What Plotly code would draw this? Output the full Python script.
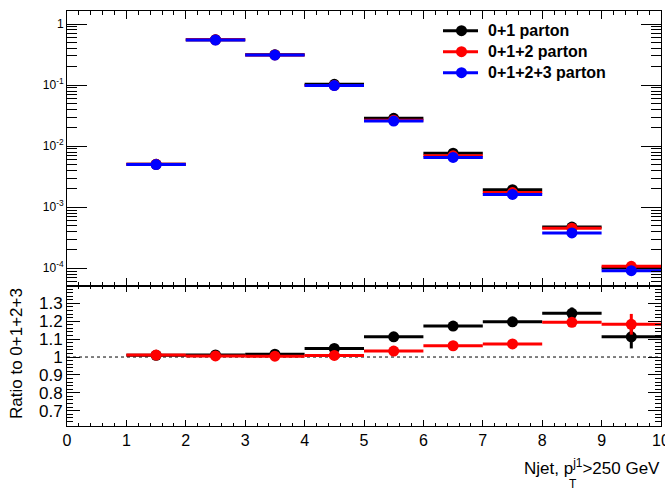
import plotly.graph_objects as go

# ---------------- data ----------------
bin_centers = [1.5, 2.5, 3.5, 4.5, 5.5, 6.5, 7.5, 8.5, 9.5]
bin_halfwidth = [0.5, 0.5, 0.5, 0.5, 0.5, 0.5, 0.5, 0.5, 0.5]

xs_01 = [0.00505, 0.5536, 0.315, 0.1027, 0.0286, 0.00766, 0.00194, 0.000473, 0.0001015]
xs_012 = [0.00505, 0.550, 0.3112, 0.0987, 0.02655, 0.00694, 0.001738, 0.000454, 0.0001079]
xs_0123 = [0.0050, 0.547, 0.31, 0.098, 0.0257, 0.00653, 0.00162, 0.00038, 0.0000912]

ratio_01 = [1.010, 1.012, 1.016, 1.048, 1.113, 1.173, 1.197, 1.244, 1.113]
ratio_01_err = [0.004, 0.003, 0.003, 0.004, 0.005, 0.006, 0.008, 0.033, 0.065]
ratio_012 = [1.011, 1.006, 1.005, 1.009, 1.033, 1.063, 1.073, 1.194, 1.183]
ratio_012_err = [0.003, 0.003, 0.003, 0.003, 0.004, 0.005, 0.006, 0.020, 0.058]

names = ["0+1 parton", "0+1+2 parton", "0+1+2+3 parton"]
colors = ["#000000", "#ff0000", "#0000ff"]

log_tickvals = [1e-4, 1e-3, 1e-2, 1e-1, 1]
log_ticktext = ["10<sup>-4</sup>", "10<sup>-3</sup>", "10<sup>-2</sup>", "10<sup>-1</sup>", "1"]
ratio_tickvals = [0.7, 0.8, 0.9, 1.0, 1.1, 1.2, 1.3]
ratio_ticktext = ["0.7", "0.8", "0.9", "1", "1.1", "1.2", "1.3"]
x_tickvals = [0, 1, 2, 3, 4, 5, 6, 7, 8, 9, 10]

FONT = "Liberation Sans, Arial, sans-serif"

# page geometry (pixels)
W, H = 665, 489
L, R, T, B = 67, 4, 11, 63
PW, PH = W - L - R, H - T - B


def px(xp):
    return (xp - L) / PW


def py(yp):
    return (H - B - yp) / PH


fig = go.Figure()

# top panel
for ys, nm, c in zip([xs_01, xs_012, xs_0123], names, colors):
    fig.add_trace(go.Scatter(
        x=bin_centers, y=ys, mode="markers", name=nm, showlegend=False,
        marker=dict(color=c, size=11, symbol="circle"),
        error_x=dict(type="data", array=bin_halfwidth, color=c, thickness=3, width=0),
        xaxis="x", yaxis="y", hoverinfo="skip"))

# ratio panel
for ys, es, c in zip([ratio_01, ratio_012], [ratio_01_err, ratio_012_err], colors[:2]):
    fig.add_trace(go.Scatter(
        x=bin_centers, y=ys, mode="markers", showlegend=False,
        marker=dict(color=c, size=11, symbol="circle"),
        error_x=dict(type="data", array=bin_halfwidth, color=c, thickness=3, width=0),
        error_y=dict(type="data", array=es, color=c, thickness=3, width=0),
        xaxis="x2", yaxis="y2", hoverinfo="skip"))

split = 140 / PH

common_x = dict(range=[0, 10], showgrid=False, zeroline=False, showline=True,
                linecolor="black", linewidth=1, mirror="allticks", ticks="inside",
                tickcolor="black", tickvals=x_tickvals, automargin=False)

# manual legend (ROOT style)
shapes = [dict(type="line", xref="x2", yref="y2", x0=0, x1=10, y0=1, y1=1,
               line=dict(color="black", width=1, dash="dot"), layer="below")]
annotations = []
leg_y = [30.7, 51.7, 72.7]
for nm, c, yy in zip(names, colors, leg_y):
    shapes.append(dict(type="line", xref="paper", yref="paper", x0=px(443), x1=px(478),
                       y0=py(yy), y1=py(yy), line=dict(color=c, width=3)))
    shapes.append(dict(type="circle", xref="paper", yref="paper", xsizemode="pixel",
                       ysizemode="pixel", xanchor=px(461.5), yanchor=py(yy),
                       x0=-5.5, x1=5.5, y0=-5.5, y1=5.5,
                       fillcolor=c, line=dict(color=c, width=0)))
    annotations.append(dict(text="<b>" + nm + "</b>", xref="paper", yref="paper",
                            x=px(486), y=py(yy), xanchor="left", yanchor="middle",
                            showarrow=False, font=dict(size=16, family=FONT)))

annotations += [
    dict(text="Njet, p<sup>j1</sup>&gt;250 GeV", xref="paper", yref="paper",
         x=px(662), y=py(467), xanchor="right", yanchor="middle", showarrow=False,
         font=dict(size=17, family=FONT)),
    dict(text="T", xref="paper", yref="paper",
         x=px(573), y=py(484), xanchor="center", yanchor="middle", showarrow=False,
         font=dict(size=12, family=FONT)),
    dict(text="Ratio to 0+1+2+3", xref="paper", yref="paper", textangle=-90,
         x=px(16), y=py(354), xanchor="center", yanchor="middle",
         showarrow=False, font=dict(size=17, family=FONT)),
]

fig.update_layout(
    width=W, height=H,
    margin=dict(l=L, r=R, t=T, b=B),
    paper_bgcolor="white", plot_bgcolor="white",
    font=dict(family=FONT, color="black"),
    showlegend=False,
    xaxis=dict(**common_x, anchor="y", showticklabels=False, ticklen=8,
               minor=dict(ticks="inside", ticklen=4, dtick=0.2, tickcolor="black", showgrid=False)),
    yaxis=dict(type="log", range=[-4.29, 0.213], domain=[split, 1], anchor="x",
               showgrid=False, zeroline=False, showline=True, linecolor="black", linewidth=1,
               mirror="allticks", ticks="inside", ticklen=20, tickcolor="black",
               tickvals=log_tickvals, ticktext=log_ticktext, tickfont=dict(size=12),
               automargin=False,
               minor=dict(ticks="inside", ticklen=10, dtick="D1", tickcolor="black", showgrid=False)),
    xaxis2=dict(**common_x, anchor="y2", showticklabels=True, ticklen=6,
                tickfont=dict(size=16), ticklabeloverflow="allow",
                minor=dict(ticks="inside", ticklen=3, dtick=0.2, tickcolor="black", showgrid=False)),
    yaxis2=dict(range=[0.6145, 1.397], domain=[0, split], anchor="x2",
                showgrid=False, zeroline=False, showline=True, linecolor="black", linewidth=1,
                mirror="allticks", ticks="inside", ticklen=13, tickcolor="black",
                tickvals=ratio_tickvals, ticktext=ratio_ticktext, tickfont=dict(size=17),
                automargin=False,
                minor=dict(ticks="inside", ticklen=6, dtick=0.02, tickcolor="black", showgrid=False)),
    shapes=shapes,
    annotations=annotations,
)

fig.write_html(
    "out.html",
    config={"displayModeBar": False, "staticPlot": True},
    post_script="document.body.style.margin='0';document.body.style.padding='0';"
                "document.body.style.overflow='hidden';",
)
